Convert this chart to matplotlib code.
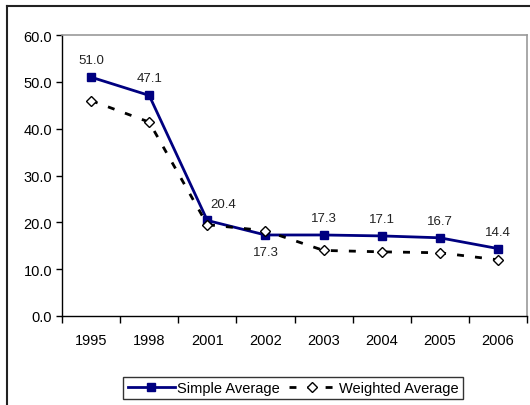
import numpy as np
import matplotlib.pyplot as plt
from matplotlib.lines import Line2D

plt.rcParams['font.family'] = ['Liberation Sans', 'DejaVu Sans']

years = ['1995', '1998', '2001', '2002', '2003', '2004', '2005', '2006']
simple_avg = [51.0, 47.1, 20.4, 17.3, 17.3, 17.1, 16.7, 14.4]
weighted_avg = [46.0, 41.4, 19.5, 18.2, 14.0, 13.7, 13.5, 12.0]

W, H = 530, 406
fig = plt.figure(figsize=(W / 100, H / 100), dpi=100)
ax = fig.add_axes([62 / W, 1 - 317 / H, (527 - 62) / W, (317 - 36) / H])

x = np.arange(len(years))
ax.plot(x, simple_avg, color='#000080', lw=2, marker='s', ms=6,
        mfc='#000080', mec='#000080', label='Simple Average', zorder=3)
ax.plot(x, weighted_avg, color='black', lw=2, ls=(0, (2.5, 4)), marker='D', ms=5.5,
        mfc='white', mec='black', mew=1, label='Weighted Average', zorder=3)

# value labels on the simple average series (offsets in pixels)
offsets = {'2001': (16, 16), '2002': (0, -17)}
for i, v in enumerate(simple_avg):
    dx, dy = offsets.get(years[i], (0, 17))
    ax.annotate(f'{v:.1f}', (x[i], v), xytext=(dx * 0.72, dy * 0.72),
                textcoords='offset points', ha='center', va='center',
                fontsize=9.5, color='#222222')

ax.set_xlim(-0.5, len(years) - 0.5)
ax.set_ylim(0, 60)
ax.set_yticks(np.arange(0, 61, 10))
ax.set_yticklabels([f'{t:.1f}' for t in np.arange(0, 61, 10)], fontsize=10.5)
ax.set_xticks(x)
ax.set_xticklabels(years, fontsize=10.5)
ax.set_xticks(np.arange(-0.5, len(years)), minor=True)
ax.tick_params(axis='x', which='major', length=0, pad=12)
ax.tick_params(axis='x', which='minor', length=5, width=1, direction='out')
ax.tick_params(axis='y', length=4, width=1, direction='out', pad=3)

for side in ['top', 'right']:
    ax.spines[side].set_color('#999999')
    ax.spines[side].set_linewidth(1.2)
for side in ['left', 'bottom']:
    ax.spines[side].set_color('black')
    ax.spines[side].set_linewidth(1)

leg = fig.legend(loc='center', bbox_to_anchor=(293 / W, 1 - 389 / H), ncol=2,
                 fontsize=10.5, frameon=True, fancybox=False, handlelength=3.2,
                 handletextpad=0.2, columnspacing=0.6, borderpad=0.3,
                 borderaxespad=0)
leg.get_frame().set_edgecolor('black')
leg.get_frame().set_linewidth(1)

# outer chart frame
fig.add_artist(Line2D([7 / W, 7 / W], [0, 1 - 7 / H], transform=fig.transFigure,
                      color='#222222', lw=1.5))
fig.add_artist(Line2D([7 / W, 1], [1 - 7 / H, 1 - 7 / H], transform=fig.transFigure,
                      color='#222222', lw=1.5))

fig.savefig('out.png', dpi=100)
